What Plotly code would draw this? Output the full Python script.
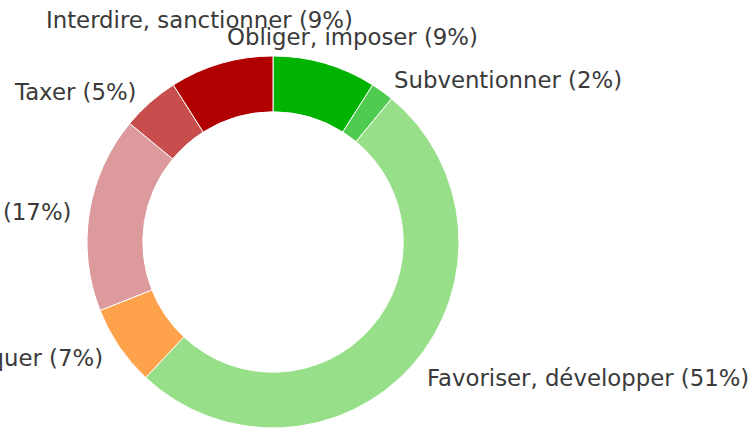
import math
import plotly.graph_objects as go

labels = ["Obliger, imposer", "Subventionner", "Favoriser, développer",
          "Communiquer", "Sensibiliser, informer", "Taxer", "Interdire, sanctionner"]
values = [9, 2, 51, 7, 17, 5, 9]
colors = ["#00b300", "#4fcc4f", "#98df8a", "#ffa24c", "#dc9a9d", "#c84e4e", "#b00000"]

W, H = 755, 429
CX, CY, R = 273, 187, 186  # pixel centre (from bottom) and radius
LABEL_R = 1.09 * R
# nudges (px) for top labels that were moved to avoid overlap
nudges = {
    "Obliger, imposer": (23, 10, "center"),
    "Interdire, sanctionner": (-17, 27, "center"),
}

fig = go.Figure(go.Pie(
    labels=labels, values=values, sort=False, direction="clockwise", rotation=0,
    hole=0.70, textinfo="none", hoverinfo="label+percent",
    marker=dict(colors=colors, line=dict(color="white", width=1)),
    domain=dict(x=[(CX - R) / W, (CX + R) / W], y=[(CY - R) / H, (CY + R) / H]),
    showlegend=False,
))

total = sum(values)
cum = 0
annotations = []
for lab, v in zip(labels, values):
    mid = (cum + v / 2) / total * 360
    cum += v
    theta = math.radians(90 - mid)
    px = CX + LABEL_R * math.cos(theta)
    py = CY + LABEL_R * math.sin(theta) - 2
    anchor = "left" if math.cos(theta) > 0 else "right"
    if lab in nudges:
        dx, dy, anchor = nudges[lab]
        px += dx
        py += dy + 2
    pct = round(v / total * 100)
    annotations.append(dict(
        x=px / W, y=py / H, xref="paper", yref="paper",
        text=f"{lab} ({pct}%)", showarrow=False,
        xanchor=anchor, yanchor="middle",
        font=dict(family="DejaVu Sans", size=22.8, color="#3a3a3a"),
    ))

fig.update_layout(
    width=W, height=H, margin=dict(l=0, r=0, t=0, b=0),
    paper_bgcolor="white", plot_bgcolor="white",
    annotations=annotations,
)
fig.write_html("out.html", config={"displayModeBar": False},
               post_script="document.body.style.margin='0';")
